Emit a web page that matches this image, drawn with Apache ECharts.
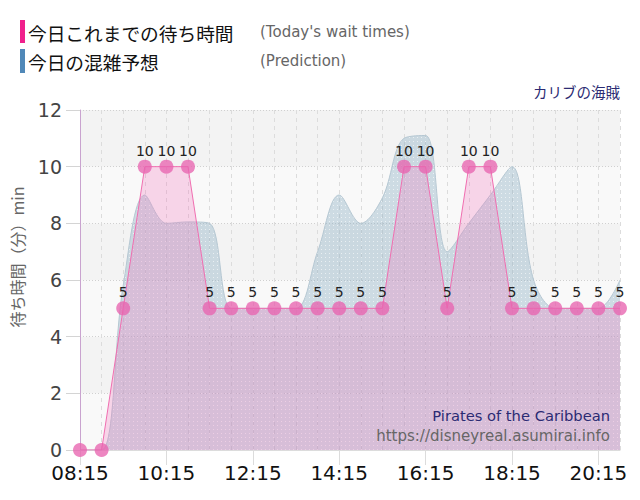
<!DOCTYPE html>
<html><head><meta charset="utf-8">
<script src="https://cdn.jsdelivr.net/npm/echarts@6/dist/echarts.min.js"></script>
<style>html,body{margin:0;padding:0;background:#fff}#c{width:640px;height:500px}</style>
</head><body><div id="c"></div>
<script>
const categories = ['08:15','08:45','09:15','09:45','10:15','10:45','11:15','11:45','12:15','12:45','13:15','13:45','14:15','14:45','15:15','15:45','16:15','16:45','17:15','17:45','18:15','18:45','19:15','19:45','20:15','20:45'];
const actualWait = [0,0,5,10,10,10,5,5,5,5,5,5,5,5,5,10,10,5,10,10,5,5,5,5,5,5];
const predictedWait = [0,0,5.8,9,8,8.05,8,5,5,5,5,7,9,8,8.9,11,11.1,7,8,9,10,6,5,5,5,6];
const legendMain = ['今日これまでの待ち時間','今日の混雑予想'];
const legendSub = ["(Today's wait times)",'(Prediction)'];
const attractionJa = 'カリブの海賊';
const attractionEn = 'Pirates of the Caribbean';
const siteUrl = 'https://disneyreal.asumirai.info';
const yAxisTitle = '待ち時間（分）min';

const pc = document.createElement('canvas');
pc.width = 4; pc.height = 4;
const pctx = pc.getContext('2d');
pctx.fillStyle = 'rgba(140,176,196,0.4)';
pctx.fillRect(0,0,4,4);
pctx.fillStyle = 'rgba(255,255,255,0.6)';
pctx.fillRect(1,1,1,1);

const chart = echarts.init(document.getElementById('c'), null, {renderer:'svg'});
const cjk = '"Noto Sans CJK JP", "DejaVu Sans", sans-serif';
const lat = '"DejaVu Sans", "Noto Sans", sans-serif';
chart.setOption({
  animation:false,
  backgroundColor:'#fff',
  grid:{left:80,right:20,top:110,bottom:50,containLabel:false},
  xAxis:{
    type:'category', data:categories, boundaryGap:false,
    axisLine:{show:true,lineStyle:{color:'#dcdcdc'}},
    axisTick:{show:true,interval:3,length:15,lineStyle:{color:'#dcdcdc'}},
    axisLabel:{interval:3,margin:13,color:'#111',fontSize:20,fontFamily:lat},
    splitLine:{show:true,interval:0,lineStyle:{color:'#dcdcdc',type:[4,4]}}
  },
  yAxis:{
    type:'value', min:0, max:12, interval:2,
    axisLine:{show:true,lineStyle:{color:'#c9a3cf'}},
    axisTick:{show:true,length:14,lineStyle:{color:'#d4d4d4'}},
    axisLabel:{margin:18,color:'#444',fontSize:19,fontFamily:lat},
    splitLine:{show:true,lineStyle:{color:'#d0d0d0',type:[1,2]}},
    splitArea:{show:true,areaStyle:{color:['#f9f9f9','#f3f3f3']}}
  },
  series:[
    {
      name:'prediction', type:'line', data:predictedWait, smooth:0.35,
      symbol:'none', z:2,
      lineStyle:{color:'#b5c7d2',width:1},
      areaStyle:{color:{image:pc,repeat:'repeat'},opacity:1}
    },
    {
      name:'actual', type:'line', data:actualWait, smooth:false,
      symbol:'circle', symbolSize:14, showAllSymbol:true, z:3,
      lineStyle:{color:'#f06eb0',width:1},
      itemStyle:{color:'rgba(232,100,175,0.78)',borderWidth:0},
      areaStyle:{color:'rgba(242,122,190,0.42)'},
      label:{show:true,position:'top',distance:2,color:'#222',fontSize:14,fontFamily:lat,
        formatter:p=>p.value>0?String(p.value):''}
    }
  ],
  graphic:[
    {type:'rect',shape:{x:20,y:20,width:5,height:23},style:{fill:'#f0208c'}},
    {type:'rect',shape:{x:20,y:49,width:5,height:24},style:{fill:'#5088b8'}},
    {type:'text',x:28,y:32,style:{text:legendMain[0],font:'18.7px '+cjk,fill:'#111',textVerticalAlign:'middle'}},
    {type:'text',x:28,y:61,style:{text:legendMain[1],font:'18.7px '+cjk,fill:'#111',textVerticalAlign:'middle'}},
    {type:'text',x:260,y:32,style:{text:legendSub[0],font:'15px '+lat,fill:'#666',textVerticalAlign:'middle'}},
    {type:'text',x:260,y:61,style:{text:legendSub[1],font:'15px '+lat,fill:'#666',textVerticalAlign:'middle'}},
    {type:'text',x:620,y:91,style:{text:attractionJa,font:'14.5px '+cjk,fill:'#2b2b73',textAlign:'right',textVerticalAlign:'middle'}},
    {type:'text',x:610,y:415,z:10,style:{text:attractionEn,font:'14.7px '+lat,fill:'#2b2b73',textAlign:'right',textVerticalAlign:'middle'}},
    {type:'text',x:610,y:436,z:10,style:{text:siteUrl,font:'15px '+lat,fill:'#666',textAlign:'right',textVerticalAlign:'middle'}},
    {type:'text',x:17,y:257,rotation:Math.PI/2,style:{text:yAxisTitle,font:'16px '+cjk,fill:'#666',textAlign:'center',textVerticalAlign:'middle'}}
  ]
});
</script></body></html>
